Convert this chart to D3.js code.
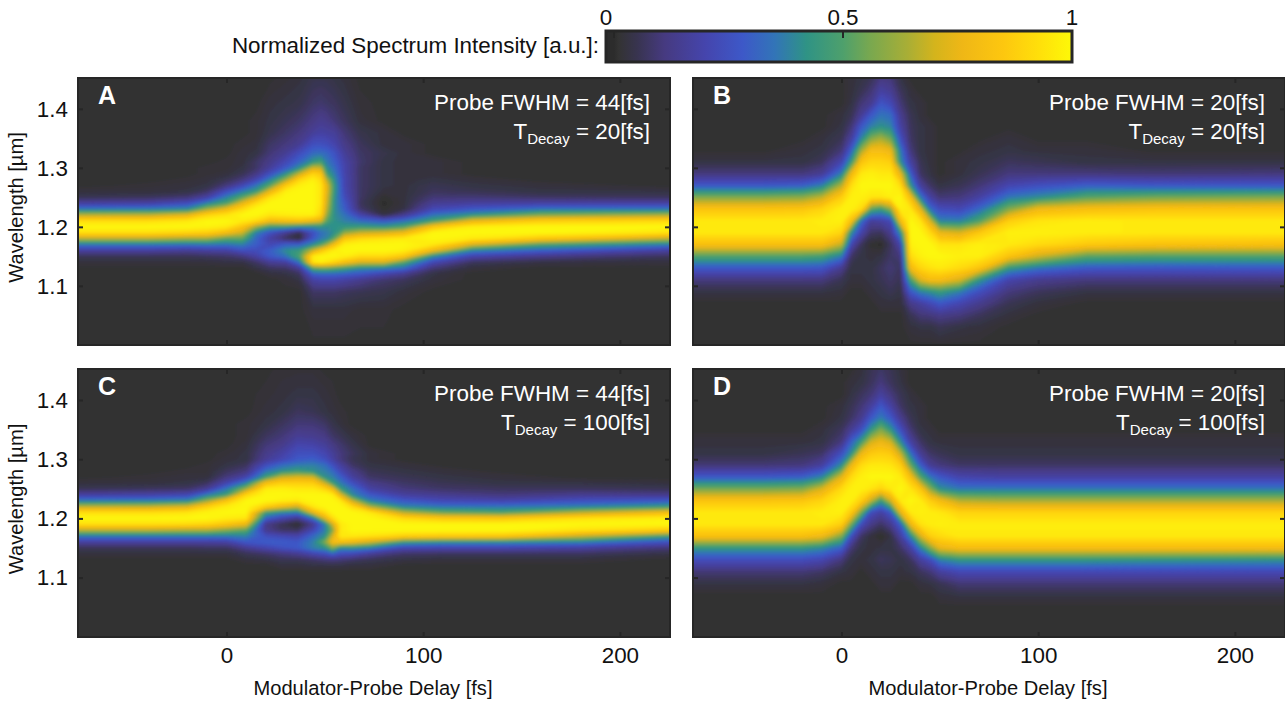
<!DOCTYPE html>
<html>
<head>
<meta charset="utf-8">
<script src="https://cdnjs.cloudflare.com/ajax/libs/d3/7.8.5/d3.min.js"></script>
<style>
  html, body { margin: 0; padding: 0; background: #fff; overflow: hidden; }
  text { font-family: "Liberation Sans", Arial, sans-serif; }
</style>
</head>
<body>
<div id="chart"></div>
<script>
// colour map
var cmapStops = [0, 1, 5, 11, 20, 28, 35, 42, 50, 56, 64, 70, 76, 85, 93, 100];
var cmapColors = ['#2c2c2c', '#333333', '#38344f', '#463a80', '#4545ad', '#3d58c8', '#3274b8', '#2f9385',
                  '#4ea06c', '#79a84f', '#a8ae36', '#d4b41c', '#efb716', '#fdc70f', '#ffe00a', '#fdf908'];
var barTicks = [0, 50, 100];
var barTickLabels = ['0', '0.5', '1'];

var xTicks = [0, 100, 200];
var yTicks = [1.1, 1.2, 1.3, 1.4];

// rows (wavelength, um) shared by the narrow band panels A and C
var wavelengthsAC = [1.454, 1.41, 1.38, 1.36, 1.34, 1.325, 1.31, 1.30, 1.29, 1.28, 1.27, 1.26, 1.25, 1.24, 1.23,
                     1.22, 1.21, 1.20, 1.19, 1.18, 1.17, 1.16, 1.15, 1.14, 1.13, 1.12, 1.11, 1.09, 1.06, 0.998];
// rows shared by the wide band panels B and D
var wavelengthsBD = [1.454, 1.43, 1.41, 1.39, 1.37, 1.35, 1.33, 1.31, 1.29, 1.27, 1.25, 1.23, 1.21, 1.19, 1.17,
                     1.15, 1.13, 1.11, 1.09, 1.07, 1.05, 1.03, 0.998];

// one spectrum (percent) per delay
var delaysA = [-76, -40, -20, -10, 0, 8, 15, 22, 30, 37, 44, 48, 51, 55, 60, 68, 80, 90, 105, 125, 160, 226];
var spectraA = [
  [1,1,1,1,1,1,1,1,1,1,1,3,6,17,36,66,93,100,93,66,36,17,6,3,1,1,1,1,1,1],
  [1,1,1,1,1,1,1,1,1,1,2,3,7,18,37,67,93,100,93,66,36,17,6,3,1,1,1,1,1,1],
  [1,1,1,1,1,1,1,1,1,2,3,4,10,24,41,75,96,100,90,62,35,15,6,3,1,1,1,1,1,1],
  [1,1,1,1,1,1,1,2,2,3,4,8,18,38,62,90,100,99,88,62,36,17,7,3,1,1,1,1,1,1],
  [1,1,1,1,1,1,2,2,3,6,11,25,38,50,78,95,100,96,80,52,35,18,8,4,1,1,1,1,1,1],
  [1,1,1,1,2,3,3,4,6,11,22,37,52,75,92,100,97,84,70,52,38,25,11,4,1,1,1,1,1,1],
  [1,1,2,2,3,4,8,8,12,21,35,46,72,92,100,100,92,62,38,32,30,24,18,8,4,1,1,1,1,1],
  [1,3,4,5,8,10,13,16,25,38,52,76,94,100,100,95,80,46,26,18,22,30,28,15,7,3,1,1,1,1],
  [2,4,6,8,11,15,22,28,42,62,86,98,100,100,100,97,82,46,14,7,30,41,35,17,8,4,2,1,1,1],
  [3,5,8,11,15,24,32,42,68,90,98,100,100,100,100,98,84,41,5,2,30,46,50,35,15,7,4,1,1,1],
  [5,8,12,16,25,33,44,70,90,98,100,100,100,100,100,98,78,40,25,28,41,70,97,95,52,30,18,8,3,1],
  [5,9,14,18,25,34,48,68,85,92,95,95,95,95,93,90,72,42,34,36,50,84,100,98,55,32,20,8,3,1],
  [5,8,13,17,24,32,37,41,48,65,75,75,72,70,66,60,52,41,37,39,62,92,100,95,55,32,20,8,3,1],
  [4,7,10,16,20,26,30,33,37,41,44,44,42,41,41,41,42,42,42,55,82,98,100,90,52,32,20,8,3,1],
  [3,5,7,10,13,16,19,20,20,21,21,22,24,28,30,35,38,44,60,85,98,100,98,82,48,30,18,7,3,1],
  [1,2,3,5,7,8,9,8,8,8,8,8,8,7,9,20,33,46,68,92,100,100,92,72,41,27,14,6,2,1],
  [1,1,1,3,3,5,4,4,4,4,4,3,1,0,1,4,28,44,72,95,100,100,92,72,38,20,9,5,2,1],
  [1,1,1,1,3,3,3,3,3,3,3,3,3,3,4,14,34,50,78,97,100,98,85,52,33,14,7,3,1,1],
  [1,1,1,1,1,1,3,3,3,4,6,7,10,15,22,35,48,84,100,100,96,78,41,22,10,4,3,1,1,1],
  [1,1,1,1,1,1,1,1,1,3,4,6,10,17,28,44,76,98,100,96,72,39,20,7,3,1,1,1,1,1],
  [1,1,1,1,1,1,1,1,1,1,3,4,8,18,35,58,88,100,100,85,50,30,13,4,1,1,1,1,1,1],
  [1,1,1,1,1,1,1,1,1,1,1,4,7,18,36,64,92,100,94,66,37,17,7,3,1,1,1,1,1,1]
];

var delaysB = [-76, -40, -20, -10, 0, 5, 10, 15, 20, 25, 30, 35, 40, 45, 50, 60, 70, 85, 100, 125, 160, 226];
var spectraB = [
  [1,1,1,1,1,1,1,4,11,28,58,84,96,96,82,50,28,11,4,1,1,1,1],
  [1,1,1,1,1,1,1,4,11,28,58,84,96,96,82,50,28,11,4,1,1,1,1],
  [1,1,1,1,1,1,3,4,11,30,60,85,96,96,82,50,28,11,4,1,1,1,1],
  [1,1,1,1,1,3,4,7,15,38,68,90,97,96,82,48,27,11,4,1,1,1,1],
  [1,1,1,3,4,6,10,21,38,66,88,98,98,90,68,37,14,6,3,1,1,1,1],
  [3,3,4,6,10,17,30,46,78,93,98,98,82,42,21,8,4,3,1,1,1,1,1],
  [4,6,10,15,28,39,62,84,96,100,98,92,34,20,7,4,4,3,1,1,1,1,1],
  [6,10,14,28,38,58,80,90,98,100,95,52,16,8,1,3,4,4,3,1,1,1,1],
  [11,18,27,35,42,64,80,90,96,100,95,46,18,7,0,4,7,6,4,3,1,1,1],
  [10,15,22,33,39,55,76,88,96,100,98,60,22,14,7,8,10,8,6,3,1,1,1],
  [4,7,10,14,18,25,36,42,75,93,100,98,80,42,20,11,7,6,4,3,1,1,1],
  [1,3,4,6,7,8,11,18,30,45,82,96,100,100,98,92,78,48,28,13,6,3,1],
  [1,1,3,3,4,4,4,6,8,17,38,76,95,100,100,98,90,72,38,17,10,4,1],
  [1,1,1,1,3,3,3,3,4,8,18,35,72,92,100,100,94,80,42,22,11,4,1],
  [1,1,1,1,1,1,1,1,1,4,10,24,39,76,95,100,96,80,46,28,13,6,1],
  [1,1,1,1,1,1,1,3,3,6,11,22,38,72,95,98,92,72,38,21,11,4,1],
  [1,1,1,1,1,1,3,4,6,10,18,33,50,86,98,98,84,44,25,14,7,3,1],
  [1,1,1,1,1,3,4,7,11,21,36,58,88,98,96,84,45,20,11,6,3,1,1],
  [1,1,1,1,1,1,3,6,11,25,41,78,95,98,92,70,35,14,7,3,1,1,1],
  [1,1,1,1,1,1,3,4,11,30,52,82,97,97,86,52,28,11,4,1,1,1,1],
  [1,1,1,1,1,1,1,4,10,28,56,84,96,96,83,50,27,11,4,1,1,1,1],
  [1,1,1,1,1,1,1,4,11,28,58,84,96,96,82,50,28,11,4,1,1,1,1]
];

var delaysC = [-76, -40, -20, -10, 0, 10, 20, 28, 36, 44, 50, 54, 58, 64, 73, 90, 110, 140, 180, 226];
var spectraC = [
  [1,1,1,1,1,1,1,1,1,1,1,3,6,17,36,66,93,100,93,66,36,17,6,3,1,1,1,1,1,1],
  [1,1,1,1,1,1,1,1,1,1,2,3,7,18,37,67,93,100,93,66,36,17,6,3,1,1,1,1,1,1],
  [1,1,1,1,1,1,1,1,1,2,3,4,8,21,40,72,95,100,92,64,36,17,6,3,1,1,1,1,1,1],
  [1,1,1,1,1,1,1,1,2,2,3,7,15,36,60,88,99,100,90,64,36,17,7,3,1,1,1,1,1,1],
  [1,1,1,1,1,1,2,3,4,7,11,20,36,47,84,97,100,97,84,58,36,18,7,3,1,1,1,1,1,1],
  [1,1,1,2,2,3,4,4,7,11,20,38,62,90,100,100,100,95,76,52,38,28,14,6,3,1,1,1,1,1],
  [1,2,3,4,7,10,13,15,24,35,47,80,97,100,100,88,48,30,13,14,25,30,20,8,4,1,1,1,1,1],
  [2,3,4,7,10,13,18,21,33,42,68,88,98,100,98,78,40,20,6,8,22,30,25,11,6,3,1,1,1,1],
  [2,4,7,10,15,20,25,28,37,46,72,88,96,100,96,70,37,13,1,7,20,28,28,14,6,3,1,1,1,1],
  [2,4,6,10,14,19,25,30,38,42,70,87,96,100,100,96,75,34,14,22,33,38,38,20,8,4,1,1,1,1],
  [1,3,4,8,12,16,21,25,34,38,42,68,90,100,100,100,92,72,38,37,42,58,42,24,10,4,1,1,1,1],
  [1,2,3,5,8,12,16,18,25,33,38,46,78,97,100,100,100,92,70,58,72,80,58,30,11,4,1,1,1,1],
  [1,1,2,3,6,9,11,11,17,22,30,37,46,74,96,100,100,100,96,96,96,82,41,24,10,4,1,1,1,1],
  [1,1,1,1,3,5,7,6,8,13,17,25,35,40,68,92,100,100,100,100,96,78,42,22,8,3,1,1,1,1],
  [1,1,1,1,1,1,3,3,4,6,8,13,18,28,38,64,96,100,100,100,94,70,37,15,6,3,1,1,1,1],
  [1,1,1,1,1,1,1,1,3,4,6,8,11,17,28,39,66,92,100,100,88,46,21,8,4,1,1,1,1,1],
  [1,1,1,1,1,1,1,1,1,3,4,6,8,14,22,35,54,86,100,100,86,42,20,7,3,1,1,1,1,1],
  [1,1,1,1,1,1,1,1,1,1,3,4,7,11,20,35,50,85,100,100,85,41,20,7,3,1,1,1,1,1],
  [1,1,1,1,1,1,1,1,1,1,1,4,7,14,25,38,66,94,100,94,68,38,17,7,3,1,1,1,1,1],
  [1,1,1,1,1,1,1,1,1,1,1,3,6,13,28,46,80,98,100,86,46,25,10,4,1,1,1,1,1,1]
];

var delaysD = [-76, -40, -20, -10, 0, 5, 10, 15, 20, 25, 30, 35, 40, 45, 50, 60, 80, 120, 226];
var spectraD = [
  [1,1,1,1,1,1,3,4,10,28,56,84,96,96,82,44,24,10,4,1,1,1,1],
  [1,1,1,1,1,1,3,4,10,28,56,84,96,96,82,44,24,10,4,1,1,1,1],
  [1,1,1,1,1,1,3,6,11,30,58,85,96,96,82,44,24,10,4,1,1,1,1],
  [1,1,1,1,1,3,4,8,17,39,72,90,97,96,78,40,21,8,3,1,1,1,1],
  [1,1,1,3,4,7,11,25,41,74,92,98,98,88,58,30,11,4,1,1,1,1,1],
  [1,3,4,6,8,15,30,42,76,92,98,98,86,56,25,10,4,3,1,1,1,1,1],
  [3,4,7,10,14,25,46,76,92,98,98,88,56,24,8,4,3,1,1,1,1,1,1],
  [6,7,10,17,28,44,70,86,96,100,95,68,24,13,3,3,4,3,1,1,1,1,1],
  [8,11,17,28,37,58,76,88,96,100,90,46,18,8,0,4,7,4,3,1,1,1,1],
  [6,7,11,18,28,44,70,86,95,100,96,70,28,14,4,4,6,4,3,1,1,1,1],
  [3,4,6,8,14,25,41,68,88,97,100,96,74,30,17,8,4,3,1,1,1,1,1],
  [1,1,3,4,6,10,18,35,55,82,95,100,96,76,39,18,7,4,1,1,1,1,1],
  [1,1,1,3,3,4,8,15,30,52,85,97,98,94,70,38,17,7,3,1,1,1,1],
  [1,1,1,1,1,3,4,8,15,36,60,88,97,97,88,58,24,10,4,1,1,1,1],
  [1,1,1,1,1,1,3,6,11,28,42,80,96,98,92,75,38,17,6,3,1,1,1],
  [1,1,1,1,1,1,3,4,8,20,36,66,90,97,96,80,44,22,10,4,1,1,1],
  [1,1,1,1,1,1,3,4,8,18,36,64,90,97,96,80,44,22,10,4,1,1,1],
  [1,1,1,1,1,1,3,4,8,18,36,64,90,97,96,80,44,22,10,4,1,1,1],
  [1,1,1,1,1,1,3,4,8,18,36,64,90,97,96,80,42,22,10,4,1,1,1]
];

var panelLetters = ['A', 'B', 'C', 'D'];
var probeLabels = ['Probe FWHM = 44[fs]', 'Probe FWHM = 20[fs]', 'Probe FWHM = 44[fs]', 'Probe FWHM = 20[fs]'];
var decayLabels = [' = 20[fs]', ' = 20[fs]', ' = 100[fs]', ' = 100[fs]'];

var width = 1285, height = 702;
var labelSize = 22.4, titleSize = 20.1;
var frameColor = '#262626';

var svg = d3.select('#chart').append('svg')
            .attr('width', width).attr('height', height)
            .style('display', 'block');

var color = d3.scaleLinear().domain(cmapStops).range(cmapColors);

var panels = [
  {x: 77,  y: 77,  w: 594, h: 269, delays: delaysA, rows: wavelengthsAC, values: spectraA},
  {x: 692, y: 77,  w: 594, h: 269, delays: delaysB, rows: wavelengthsBD, values: spectraB},
  {x: 77,  y: 368, w: 594, h: 270, delays: delaysC, rows: wavelengthsAC, values: spectraC},
  {x: 692, y: 368, w: 594, h: 270, delays: delaysD, rows: wavelengthsBD, values: spectraD}
];

var thresholds = d3.range(0.5, 100, 1);

// softens the facets of the contour bands
svg.append('filter').attr('id', 'soft')
   .attr('x', '-5%').attr('y', '-5%').attr('width', '110%').attr('height', '110%')
   .append('feGaussianBlur').attr('stdDeviation', 1.6);

panels.forEach(function(p, k){
  var g = svg.append('g').attr('transform', 'translate(' + p.x + ',' + p.y + ')');

  var x = d3.scaleLinear().domain([-76, 226]).range([0, p.w]);
  var y = d3.scaleLinear().domain([0.998, 1.454]).range([p.h, 0]);

  // grid index -> data, the grid is not evenly spaced
  // not clamped: the bands run a little past the panel and get clipped there
  var col = d3.scaleLinear().domain(d3.range(p.delays.length)).range(p.delays);
  var row = d3.scaleLinear().domain(d3.range(p.rows.length)).range(p.rows);
  var project = d3.geoTransform({
    point: function(i, j){
      this.stream.point(x(col(i - 0.5)), y(row(j - 0.5)));
    }
  });

  var n = p.delays.length, m = p.rows.length;
  var grid = new Array(n * m);
  p.values.forEach(function(spectrum, i){
    spectrum.forEach(function(v, j){ grid[j * n + i] = v; });
  });

  var contours = d3.contours().size([n, m]).thresholds(thresholds)(grid);

  svg.append('clipPath').attr('id', 'clip' + k)
     .append('rect').attr('width', p.w).attr('height', p.h);

  var map = g.append('g').attr('clip-path', 'url(#clip' + k + ')')
             .append('g').attr('filter', 'url(#soft)');
  map.append('rect').attr('x', -20).attr('y', -20)
     .attr('width', p.w + 40).attr('height', p.h + 40).attr('fill', color(0));
  map.selectAll('path.level').data(contours).enter().append('path')
     .attr('class', 'level')
     .attr('d', d3.geoPath(project))
     .attr('fill', function(d){ return color(d.value); });

  // axes, ticks point into the panel
  var xAxis = d3.axisBottom(x).tickValues(xTicks).tickSize(-6).tickPadding(9);
  var yAxis = d3.axisLeft(y).tickValues(yTicks).tickSize(-6).tickPadding(9).tickFormat(d3.format('.1f'));
  var xTop = d3.axisTop(x).tickValues(xTicks).tickSize(-6).tickFormat('');
  var yRight = d3.axisRight(y).tickValues(yTicks).tickSize(-6).tickFormat('');

  if (k < 2) xAxis.tickFormat('');
  if (k % 2 === 1) yAxis.tickFormat('');

  var axes = [
    g.append('g').attr('transform', 'translate(0,' + p.h + ')').call(xAxis),
    g.append('g').call(xTop),
    g.append('g').attr('transform', 'translate(' + p.w + ',0)').call(yRight),
    g.append('g').call(yAxis)
  ];
  axes.forEach(function(a){
    a.select('.domain').remove();
    a.selectAll('.tick line').attr('stroke', frameColor).attr('stroke-width', 2);
    a.selectAll('.tick text').attr('fill', '#111').attr('font-size', labelSize)
     .attr('font-family', '"Liberation Sans", Arial, sans-serif');
  });

  g.append('rect')
   .attr('x', 1).attr('y', 1).attr('width', p.w - 2).attr('height', p.h - 2)
   .attr('fill', 'none').attr('stroke', frameColor).attr('stroke-width', 2);

  // panel letter and labels
  g.append('text').attr('x', 21).attr('y', 27)
   .attr('font-size', 25).attr('font-weight', 'bold').attr('fill', '#fff')
   .text(panelLetters[k]);

  g.append('text').attr('x', 573).attr('y', 33)
   .attr('text-anchor', 'end').attr('font-size', labelSize).attr('fill', '#fff')
   .text(probeLabels[k]);

  var decay = g.append('text').attr('x', 573).attr('y', 62)
   .attr('text-anchor', 'end').attr('font-size', labelSize).attr('fill', '#fff');
  decay.append('tspan').text('T');
  decay.append('tspan').attr('font-size', 15).attr('dy', 5).text('Decay');
  decay.append('tspan').attr('dy', -5).text(decayLabels[k]);

  if (k >= 2) {
    g.append('text').attr('x', p.w / 2 - 1).attr('y', p.h + 57)
     .attr('text-anchor', 'middle').attr('font-size', titleSize).attr('fill', '#111')
     .text('Modulator-Probe Delay [fs]');
  }
  if (k % 2 === 0) {
    g.append('text')
     .attr('transform', 'translate(' + (-54) + ',' + (p.h / 2 - 4) + ') rotate(-90)')
     .attr('text-anchor', 'middle').attr('font-size', titleSize).attr('fill', '#111')
     .text('Wavelength [\u00b5m]');
  }
});

// colour bar
var barX = d3.scaleLinear().domain([0, 100]).range([614, 1072]);
var barLeft = 606, barRight = 1072, barTop = 31, barBottom = 62;

var gradient = svg.append('defs').append('linearGradient').attr('id', 'barGradient')
                  .attr('gradientUnits', 'userSpaceOnUse')
                  .attr('x1', barX(0)).attr('x2', barX(100)).attr('y1', 0).attr('y2', 0);
gradient.selectAll('stop').data(cmapStops).enter().append('stop')
        .attr('offset', function(d){ return d + '%'; })
        .attr('stop-color', function(d, i){ return cmapColors[i]; });

svg.append('rect')
   .attr('x', barLeft).attr('y', barTop)
   .attr('width', barRight - barLeft).attr('height', barBottom - barTop)
   .attr('fill', 'url(#barGradient)')
   .attr('stroke', frameColor).attr('stroke-width', 3);

svg.selectAll('line.barTick').data(barTicks.slice(0, 2)).enter().append('line')
   .attr('class', 'barTick')
   .attr('x1', barX).attr('x2', barX)
   .attr('y1', barTop).attr('y2', barTop + 7)
   .attr('stroke', frameColor).attr('stroke-width', 2);

svg.selectAll('text.barLabel').data(barTicks).enter().append('text')
   .attr('class', 'barLabel')
   .attr('x', function(d){ return d === 0 ? barLeft : barX(d); })
   .attr('y', 25)
   .attr('text-anchor', 'middle').attr('font-size', labelSize).attr('fill', '#111')
   .text(function(d, i){ return barTickLabels[i]; });

svg.append('text').attr('x', 599).attr('y', 53)
   .attr('text-anchor', 'end').attr('font-size', labelSize).attr('fill', '#111')
   .text('Normalized Spectrum Intensity [a.u.]:');
</script>
</body>
</html>
